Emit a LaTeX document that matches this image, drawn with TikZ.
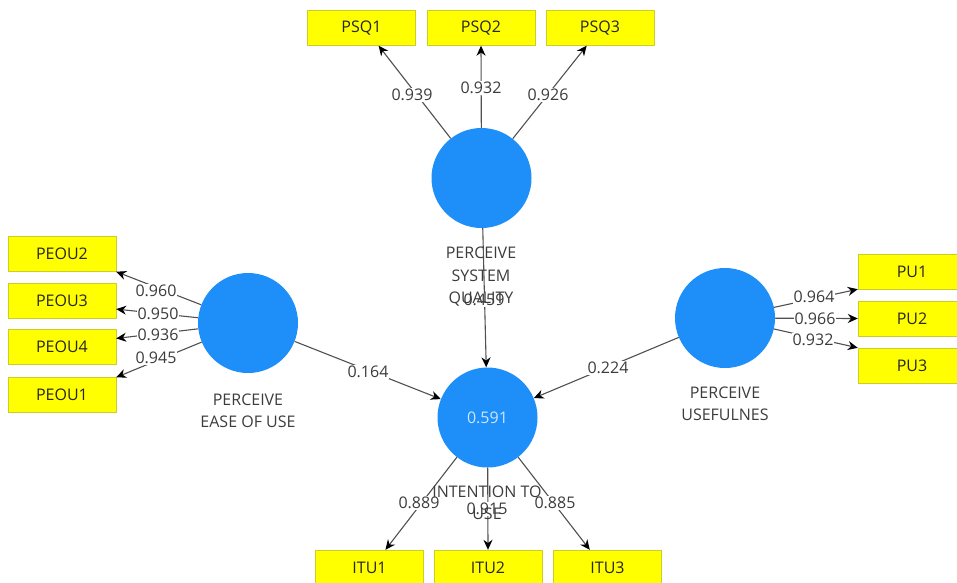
\documentclass[tikz,border=0pt]{standalone}
\usepackage{fontspec}
\setmainfont{Open Sans}
\usetikzlibrary{arrows.meta}
\definecolor{boxyellow}{RGB}{255,255,0}
\definecolor{boxedge}{RGB}{205,205,40}
\definecolor{lvblue}{RGB}{30,142,248}
\definecolor{linegrey}{RGB}{80,80,80}
\definecolor{txtgrey}{RGB}{60,60,60}
\definecolor{innertxt}{RGB}{205,230,255}
\begin{document}
\begin{tikzpicture}[x=1pt,y=-1pt,
  ind/.style={draw=boxedge, fill=boxyellow, minimum width=108pt, minimum height=35pt, inner sep=0pt, font=\fontsize{16}{19}\selectfont, text=black!85},
  lv/.style={circle, fill=lvblue, minimum size=100pt, inner sep=0pt},
  conn/.style={draw=linegrey, line width=1.1pt},
  arr/.style={conn, -{Stealth[length=10pt,width=9pt,black]}},
  num/.style={fill=white, inner sep=1pt, text=txtgrey, font=\fontsize{16}{19}\selectfont},
  cname/.style={align=center, text=txtgrey, font=\fontsize{16}{22.5}\selectfont}]
\useasboundingbox (0,0) rectangle (957,582);
% latent variables
\node[lv] (psq) at (481.5,178) {};
\node[lv] (peou) at (248,323) {};
\node[lv] (pu) at (725,318) {};
\node[lv, text=innertxt, font=\fontsize{16}{19}\selectfont] (itu) at (487.5,417.5) {0.591};
% indicators
\node[ind] (psq1) at (361.5,28) {PSQ1};
\node[ind] (psq2) at (481,28) {PSQ2};
\node[ind] (psq3) at (600,28) {PSQ3};
\node[ind] (peou2) at (62,254) {PEOU2};
\node[ind] (peou3) at (62,300.5) {PEOU3};
\node[ind] (peou4) at (62,347) {PEOU4};
\node[ind] (peou1) at (62,395) {PEOU1};
\node[ind] (pu1) at (912,271.5) {PU1};
\node[ind] (pu2) at (912,318.5) {PU2};
\node[ind] (pu3) at (912,365.5) {PU3};
\node[ind] (itu1) at (369.5,567.5) {ITU1};
\node[ind] (itu2) at (488,567.5) {ITU2};
\node[ind] (itu3) at (607.5,567.5) {ITU3};
% connectors
\draw[arr] (psq) -- (psq1.-46);
\draw[arr] (psq) -- (psq2.south);
\draw[arr] (psq) -- (psq3.-127);
\draw[arr] (peou) -- (peou2.south east);
\draw[arr] (peou) -- (peou3.-9);
\draw[arr] (peou) -- (peou4.9);
\draw[arr] (peou) -- (peou1.north east);
\draw[arr] (pu) -- (pu1.south west);
\draw[arr] (pu) -- (pu2.west);
\draw[arr] (pu) -- (pu3.north west);
\draw[arr] (itu) -- (itu1.48);
\draw[arr] (itu) -- (itu2.north);
\draw[arr] (itu) -- (itu3.135);
\draw[arr] (peou) -- (itu);
\draw[arr] (psq) -- (itu);
\draw[arr] (pu) -- (itu);
% loadings / path coefficients
\node[num] (n1) at (412,95) {0.939};
\node[num] (n2) at (481,88) {0.932};
\node[num] (n3) at (548,95) {0.926};
\node[num] (n4) at (156,291) {0.960};
\node[num] (n5) at (158,314) {0.950};
\node[num] (n6) at (158,335) {0.936};
\node[num] (n7) at (156,358) {0.945};
\node[num] (n8) at (814,297) {0.964};
\node[num] (n9) at (815,319) {0.966};
\node[num] (n10) at (813,340) {0.932};
\node[num] (n11) at (419,503) {0.889};
\node[num] (n12) at (487,509) {0.915};
\node[num] (n13) at (555,503) {0.885};
\node[num] (n14) at (368,372) {0.164};
\node[num] (n15) at (484,300) {0.459};
\node[num] (n16) at (608,368) {0.224};
% construct names
\node[cname] (psqname) at (481,277) {PERCEIVE\\SYSTEM\\QUALITY};
\node[cname] (peouname) at (248,411) {PERCEIVE\\EASE OF USE};
\node[cname] (puname) at (725,404) {PERCEIVE\\USEFULNES};
\node[cname] (ituname) at (487,503) {INTENTION TO\\USE};
\end{tikzpicture}
\end{document}
